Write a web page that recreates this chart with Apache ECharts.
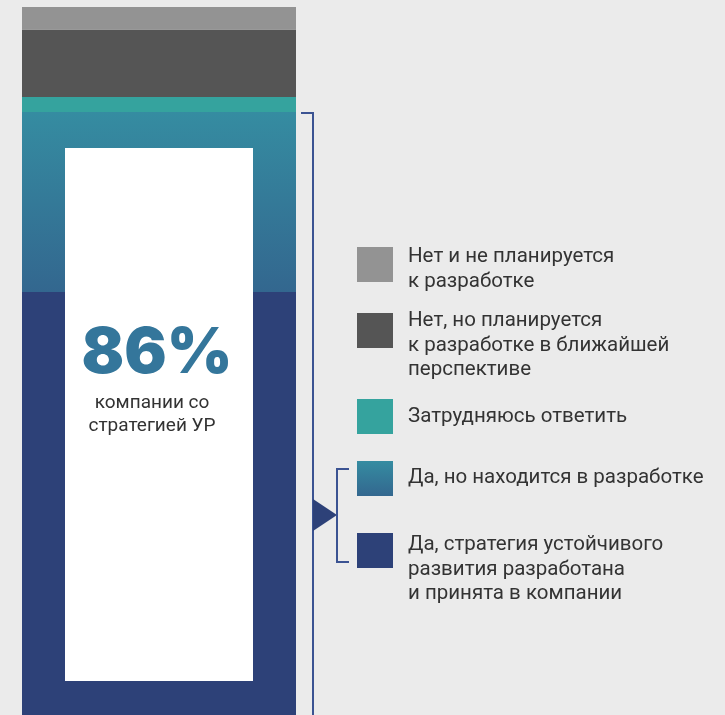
<!DOCTYPE html>
<html><head><meta charset="utf-8">
<script src="https://cdn.jsdelivr.net/npm/echarts@6/dist/echarts.min.js"></script>
<style>html,body{margin:0;padding:0;background:#ebebeb;}#c{width:725px;height:715px;}</style>
</head><body><div id="c"></div>
<script>
// Data (top of bar to bottom)
var categories = [
  'Нет и не планируется\nк разработке',
  'Нет, но планируется\nк разработке в ближайшей\nперспективе',
  'Затрудняюсь ответить',
  'Да, но находится в разработке',
  'Да, стратегия устойчивого\nразвития разработана\nи принята в компании'
];
var values = [3, 9, 2, 24, 62];
var headline = '86%';
var headlineText = 'компании со\nстратегией УР';

var gradBlue = new echarts.graphic.LinearGradient(0, 0, 0, 1, [{offset: 0, color: '#358ca1'}, {offset: 1, color: '#33678f'}]);
var colors = ['#939393', '#555555', '#35a39e', gradBlue, '#2d4178'];

var chart = echarts.init(document.getElementById('c'));
var series = [];
for (var i = values.length - 1; i >= 0; i--) {
  series.push({
    name: categories[i], type: 'bar', stack: 'all', barWidth: '100%',
    itemStyle: {color: colors[i]}, data: [values[i]], silent: true
  });
}
var legendTops = [245, 309, 405, 466, 533];
var squareTops = [247, 313, 399, 461, 533];
var graphics = [
  {type: 'rect', shape: {x: 65, y: 148, width: 188, height: 533}, style: {fill: '#ffffff'}, z: 10},
  {type: 'text', x: 157, y: 354, z: 11, style: {text: headline, fontFamily: 'Inter', fontWeight: 900, fontSize: 63,
    align: 'center', verticalAlign: 'middle', fill: '#34769b'}},
  {type: 'text', x: 152, y: 392, z: 11, style: {text: headlineText, fontFamily: 'Roboto', fontSize: 19, lineHeight: 23,
    align: 'center', verticalAlign: 'top', fill: '#333333'}},
  {type: 'polyline', shape: {points: [[301, 113], [313, 113], [313, 760]]}, style: {stroke: '#3b5392', lineWidth: 2, fill: null}},
  {type: 'polygon', shape: {points: [[313, 499], [337, 515], [313, 531]]}, style: {fill: '#2d4178'}},
  {type: 'polyline', shape: {points: [[349, 469], [337, 469], [337, 562], [349, 562]]}, style: {stroke: '#3b5392', lineWidth: 2, fill: null}}
];
for (var j = 0; j < categories.length; j++) {
  graphics.push({type: 'rect', shape: {x: 357, y: squareTops[j], width: 36, height: 35}, style: {fill: colors[j]}});
  graphics.push({type: 'text', x: 408, y: legendTops[j], style: {text: categories[j], fontFamily: 'Roboto', fontSize: 20.5,
    lineHeight: 24.5, verticalAlign: 'top', fill: '#333333'}});
}
chart.setOption({
  backgroundColor: '#ebebeb',
  animation: false,
  grid: {left: 22, width: 274, top: 7, height: 750, outerBoundsMode: 'none'},
  xAxis: {type: 'category', data: [''], show: false},
  yAxis: {type: 'value', min: 0, max: 100, show: false},
  series: series,
  graphic: graphics
});
</script></body></html>
